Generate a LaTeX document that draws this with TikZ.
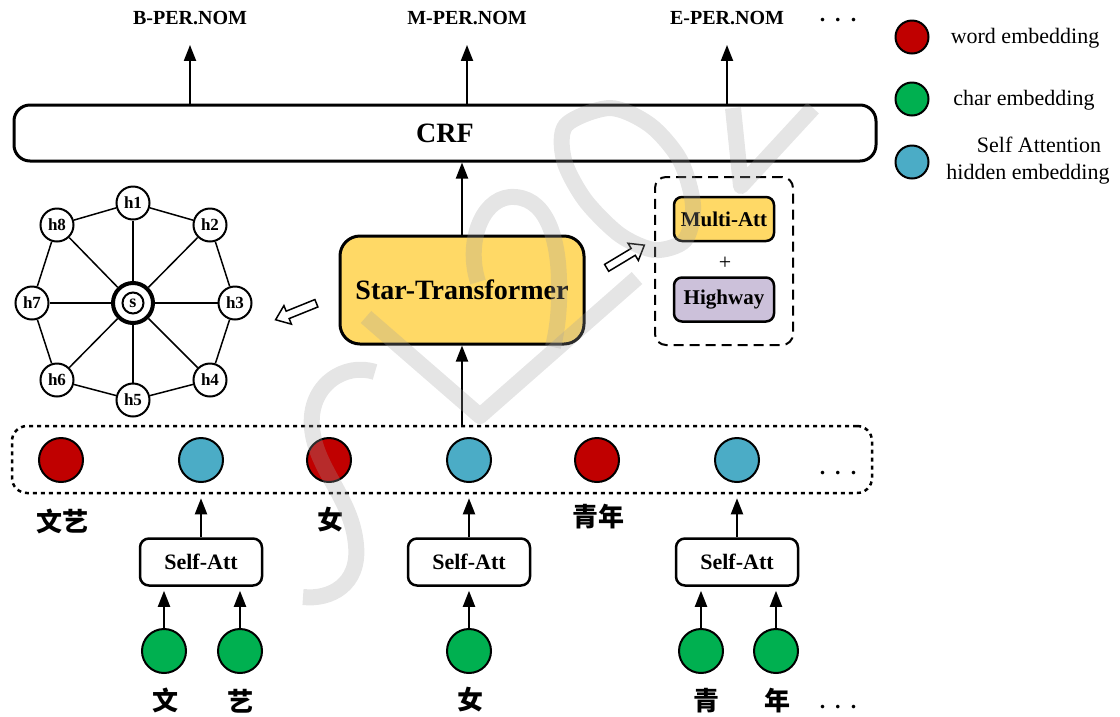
\documentclass[tikz,border=0pt]{standalone}
\usepackage{fontspec}
\setmainfont{Liberation Serif}
\newfontfamily\cjk{Noto Sans CJK SC}
\usetikzlibrary{arrows.meta}
\definecolor{wred}{HTML}{C00000}
\definecolor{cgreen}{HTML}{00B050}
\definecolor{sblue}{HTML}{4BACC6}
\definecolor{styel}{HTML}{FFD966}
\definecolor{hwpur}{HTML}{CCC1DA}
\definecolor{wmark}{RGB}{160,160,160}
\begin{document}
\begin{tikzpicture}[x=1pt,y=-1pt,
  arr/.style={line width=2pt,-{Triangle[length=16pt,width=12pt]}},
  toplbl/.style={font=\fontsize{20}{24}\selectfont\bfseries,inner sep=0pt},
  crfbox/.style={draw,line width=3pt,rounded corners=16pt,minimum width=862pt,minimum height=56pt,font=\fontsize{28}{33}\selectfont\bfseries},
  stbox/.style={draw,fill=styel,line width=3pt,rounded corners=20pt,minimum width=244pt,minimum height=108pt,font=\fontsize{28}{33}\selectfont\bfseries},
  detbox/.style={draw,dash pattern=on 10pt off 6pt,line width=2pt,rounded corners=11pt,minimum width=138pt,minimum height=168pt},
  smallbox/.style={draw,line width=2.5pt,rounded corners=8pt,minimum width=100pt,minimum height=44pt,font=\fontsize{21}{25}\selectfont\bfseries},
  hollow/.style={draw,line width=1.5pt,fill=white,line join=miter},
  gnode/.style={circle,draw,fill=white,line width=2pt,minimum size=33pt,inner sep=0pt,font=\fontsize{17}{20}\selectfont\bfseries},
  snode/.style={circle,draw,fill=white,line width=4pt,minimum size=40pt,inner sep=0pt},
  sin/.style={circle,draw,line width=2pt,minimum size=21pt,inner sep=0pt,font=\fontsize{18}{20}\selectfont\bfseries},
  gedge/.style={line width=1.5pt},
  rowbox/.style={draw,dash pattern=on 4pt off 4pt,line width=2.5pt,rounded corners=15pt,minimum width=860pt,minimum height=67pt},
  emb/.style={circle,draw,line width=2pt,minimum size=44pt,inner sep=0pt},
  legc/.style={circle,draw,line width=2pt,minimum size=33pt,inner sep=0pt},
  cjklbl/.style={font=\fontsize{26}{30}\selectfont\cjk\bfseries,inner sep=0pt},
  sabox/.style={draw,line width=2.5pt,rounded corners=9pt,minimum width=122pt,minimum height=47pt,font=\fontsize{22}{26}\selectfont\bfseries},
  legt/.style={font=\fontsize{22}{27}\selectfont,align=center,inner sep=0pt},
  ell/.style={font=\fontsize{22}{26}\selectfont\bfseries,inner sep=0pt}
]
\useasboundingbox (0,0) rectangle (1120,716);

% output labels
\node[toplbl] (b1) at (190,18) {B-PER.NOM};
\node[toplbl] (b2) at (467,18) {M-PER.NOM};
\node[toplbl] (b3) at (727,18) {E-PER.NOM};
\node[ell] (d1) at (838,20) {.\hspace{10pt}.\hspace{10pt}.};

% CRF
\node[crfbox] (crf) at (445,133) {CRF};
\draw[arr] (crf.north -| b1) -- ([yshift=-20pt]b1.south);
\draw[arr] (crf.north -| b2) -- ([yshift=-20pt]b2.south);
\draw[arr] (crf.north -| b3) -- ([yshift=-20pt]b3.south);

% Star-Transformer
\node[stbox] (st) at (462,290) {Star-Transformer};
\draw[arr] (st.north) -- (crf.south -| st);

% detail box
\node[detbox] (det) at (724,261) {};
\node[smallbox,fill=styel] (ma) at (724,219) {Multi-Att};
\node[font=\fontsize{22}{26}\selectfont] (plus) at (725,263) {+};
\node[smallbox,fill=hwpur] (hw) at (724,299.5) {Highway};

% hollow arrows
\draw[hollow,shift={(625.5,256.5)},rotate=31] (-22,-4) -- (9,-4) -- (9,-10) -- (22,0) -- (9,10) -- (9,4) -- (-22,4) -- cycle;
\draw[hollow,shift={(296,311.5)},rotate=202] (-22,-4) -- (9,-4) -- (9,-10) -- (22,0) -- (9,10) -- (9,4) -- (-22,4) -- cycle;

% star graph
\foreach \n/\x/\y in {1/133/203,2/210/225,3/235/303,4/210/380,5/133/400,6/57/380,7/32/303,8/57/225}
  \node[gnode] (h\n) at (\x,\y) {h\n};
\node[snode] (s) at (133,303) {};
\node[sin] (sl) at (s) {s};
\foreach \n in {1,...,8} \draw[gedge] (s) -- (h\n);
\draw[gedge] (h1) -- (h2);
\draw[gedge] (h2) -- (h3);
\draw[gedge] (h3) -- (h4);
\draw[gedge] (h4) -- (h5);
\draw[gedge] (h5) -- (h6);
\draw[gedge] (h6) -- (h7);
\draw[gedge] (h7) -- (h8);
\draw[gedge] (h8) -- (h1);

% embedding row
\node[rowbox] (row) at (442,459.5) {};
\draw[arr] (row.north -| st) -- (st.south);
\node[emb,fill=wred] (e1) at (61,460) {};
\node[emb,fill=sblue] (e2) at (201,460) {};
\node[emb,fill=wred] (e3) at (329,460) {};
\node[emb,fill=sblue] (e4) at (469,460) {};
\node[emb,fill=wred] (e5) at (597,460) {};
\node[emb,fill=sblue] (e6) at (737,460) {};
\node[ell] (d2) at (838,473) {.\hspace{10pt}.\hspace{10pt}.};
\node[cjklbl] (l1) at (62,521) {文艺};
\node[cjklbl] (l3) at (330,520) {女};
\node[cjklbl] (l5) at (598,517) {青年};

% self attention
\node[sabox] (sa1) at (201,562) {Self-Att};
\node[sabox] (sa2) at (469,562) {Self-Att};
\node[sabox] (sa3) at (737,562) {Self-Att};
\draw[arr,shorten >=4pt] (sa1.north) -- (row.south -| sa1);
\draw[arr,shorten >=4pt] (sa2.north) -- (row.south -| sa2);
\draw[arr,shorten >=4pt] (sa3.north) -- (row.south -| sa3);

% char embeddings
\node[emb,fill=cgreen] (c1) at (164,651) {};
\node[emb,fill=cgreen] (c2) at (240,651) {};
\node[emb,fill=cgreen] (c3) at (469,651) {};
\node[emb,fill=cgreen] (c4) at (701,651) {};
\node[emb,fill=cgreen] (c5) at (776,651) {};
\draw[arr,shorten >=4pt] (c1) -- (sa1.south -| c1);
\draw[arr,shorten >=4pt] (c2) -- (sa1.south -| c2);
\draw[arr,shorten >=4pt] (c3) -- (sa2.south -| c3);
\draw[arr,shorten >=4pt] (c4) -- (sa3.south -| c4);
\draw[arr,shorten >=4pt] (c5) -- (sa3.south -| c5);
\node[cjklbl] (k1) at (165,700) {文};
\node[cjklbl] (k2) at (240,701) {艺};
\node[cjklbl] (k3) at (470,700) {女};
\node[cjklbl] (k4) at (706,701) {青};
\node[cjklbl] (k5) at (777,701) {年};
\node[ell] (d3) at (838,707) {.\hspace{10pt}.\hspace{10pt}.};

% legend
\node[legc,fill=wred] (lw) at (912,37) {};
\node[legc,fill=cgreen] (lc) at (912,99) {};
\node[legc,fill=sblue] (ls) at (912,162) {};
\node[legt] (tw) at (1025,38) {word embedding};
\node[legt] (tc) at (1024,100) {char embedding};
\node[legt] (ts) at (1028,161) {\hspace{22pt}Self Attention\\hidden embedding};

% watermark
\begin{scope}[draw=wmark,opacity=0.27,line width=16pt,line cap=butt,line join=round]
\draw (375,372) .. controls (345,362) and (308,385) .. (312,428) .. controls (316,470) and (352,498) .. (356,545) .. controls (360,585) and (330,600) .. (303,597);
\draw (366,317) -- (480,416) -- (637,278);
\draw (478,282) .. controls (466,245) and (480,200) .. (510,197) .. controls (545,195) and (558,235) .. (559,280) .. controls (560,310) and (557,330) .. (553,347);
\draw plot[smooth cycle] coordinates {(566,125) (564,160) (585,200) (620,235) (655,250) (685,240) (693,205) (680,160) (650,125) (610,108)};
\draw (733,108) -- (741,186) -- (813,108);
\end{scope}
\end{tikzpicture}
\end{document}
